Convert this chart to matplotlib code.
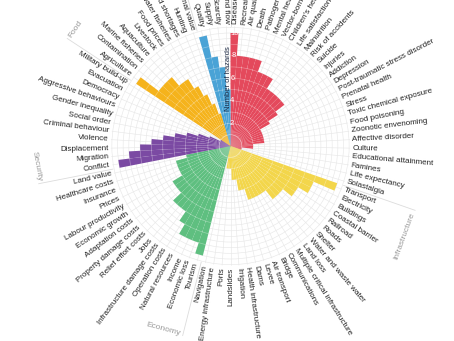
import numpy as np
import matplotlib.pyplot as plt

plt.rcParams['font.family'] = ['Liberation Sans', 'DejaVu Sans']

health = ['Disease', 'Recreation', 'Air quality', 'Death', 'Pathogen contamination',
          'Mental health', 'Vector-borne disease', "Children's health", 'Life satisfaction',
          'Malnutrition', 'Risk of accidents', 'Suicide', 'Injuries', 'Addiction',
          'Depression', 'Post-traumatic stress disorder', 'Prenatal health', 'Stress',
          'Toxic chemical exposure', 'Food poisoning', 'Zoonotic envenoming',
          'Affective disorder', 'Culture', 'Educational attainment', 'Famines',
          'Life expectancy', 'Solastalgia']
health_n = [10, 8, 8, 8, 8, 7, 7, 7, 6, 6, 6, 6, 6, 5, 4, 3, 3, 3, 3, 3, 3, 2, 2, 2, 1, 1, 1]

infra = ['Transport', 'Electricity', 'Buildings', 'Coastal barrier', 'Railroad', 'Roads',
         'Shelter', 'Water and waste water', 'Land loss', 'Multiple critical infrastructure',
         'Communications', 'Bridge', 'Air transport', 'Levee', 'Dams',
         'Health infrastructure', 'Irrigation', 'Landslides', 'Ports',
         'Energy infrastructure', 'Navigation']
infra_n = [10, 8, 8, 7, 7, 6, 6, 6, 5, 5, 5, 5, 5, 4, 4, 3, 3, 2, 2, 2, 1]

economy = ['Tourism', 'Economic loss', 'Income', 'Natural resources', 'Operation costs',
           'Infrastructure damage costs', 'Jobs', 'Relief effort costs',
           'Property damage costs', 'Adaptation costs', 'Economic growth',
           'Labour productivity', 'Prices', 'Insurance', 'Healthcare costs', 'Land value']
economy_n = [10, 9, 9, 9, 8, 7, 7, 7, 6, 6, 6, 5, 5, 5, 5, 4]

security = ['Conflict', 'Migration', 'Displacement', 'Violence', 'Criminal behaviour',
            'Social order', 'Gender inequality', 'Aggressive behaviours', 'Democracy',
            'Evacuation', 'Military build-up']
security_n = [10, 9, 8, 7, 6, 5, 4, 3, 2, 1, 1]

food = ['Agriculture', 'Contamination', 'Marine fisheries', 'Aquaculture', 'Livestock',
        'Food prices', 'Freshwater fisheries', 'Food shortages', 'Hunting',
        'Nutritional value']
food_n = [10, 8, 8, 8, 7, 7, 6, 5, 4, 3]

water = ['Quality', 'Supply', 'Scarcity', 'Timing and flow']
water_n = [10, 8, 7, 5]

group_names = ['Health', 'Infrastructure', 'Economy', 'Security', 'Food', 'Water']
group_colors = ['#e4495c', '#f3d64b', '#5fbf80', '#7b4aa3', '#f5b31c', '#4aa3d6']

# ---- assemble
labels, values, colors, starts = [], [], [], []
for names, vals, col in zip([health, infra, economy, security, food, water],
                            [health_n, infra_n, economy_n, security_n, food_n, water_n],
                            group_colors):
    starts.append(len(labels))
    labels += names
    values += vals
    colors += [col] * len(names)

n = len(labels)
step = 2 * np.pi / n
theta = (np.arange(n) + 0.5) * step

fig = plt.figure(figsize=(4.54, 3.41), dpi=100)
R = 10.6
unit = 11.3
cx, cy = 230.5, 341 - 146
half = R * unit
ax = fig.add_axes([(cx - half) / 454, (cy - half) / 341, 2 * half / 454, 2 * half / 341],
                  projection='polar')
ax.set_theta_zero_location('N')
ax.set_theta_direction(-1)
ax.set_ylim(0, R)
ax.set_xticks(theta)
ax.set_xticklabels([])
ax.set_yticks(np.arange(0.5, 10.6, 0.5))
ax.set_yticklabels([])
ax.tick_params(length=0)
ax.grid(color='#e8e8e8', lw=0.45)
ax.spines['polar'].set_visible(False)
ax.set_axisbelow(True)

ax.bar(theta, values, width=step, color=colors, linewidth=0, zorder=2)

# lighter arcs inside the bars
for t, v in zip(theta, values):
    arc = np.linspace(t - step / 2, t + step / 2, 10)
    for r in range(1, 11):
        if r < v:
            ax.plot(arc, [r] * len(arc), color='white', lw=0.5, alpha=0.35, zorder=3)

for r in range(2, 11, 2):
    ax.text(np.radians(2.2), r, str(r), color='white', fontsize=5.5,
            ha='center', va='center', zorder=4)
ax.text(np.radians(-1.8), 6.0, 'Number of hazards', rotation=90, color='#1d2a44',
        fontsize=5.5, ha='center', va='center', zorder=4)

# category labels
for t, lab in zip(theta, labels):
    deg = np.degrees(t)
    if deg < 180:
        rot, ha = 90 - deg, 'left'
    else:
        rot, ha = 270 - deg, 'right'
    ax.text(t, 10.8, lab, rotation=rot, rotation_mode='anchor', ha=ha, va='center',
            fontsize=5.8, color='#222222')

# group separators and names
for s, name in zip(starts, group_names):
    tb = s * step
    ax.plot([tb, tb], [10.6, 17.3], color='#dcdcdc', lw=0.6, clip_on=False, zorder=1)
    deg = np.degrees(tb) + 0.8
    rot = (-deg) % 360
    ha = 'left'
    if 90 < rot < 270:
        rot -= 180
        ha = 'right'
    ax.text(np.radians(deg), 17.2, name, rotation=rot, rotation_mode='anchor', ha=ha,
            va='center', fontsize=6, color='#999999')

fig.savefig('out.png', dpi=100)
